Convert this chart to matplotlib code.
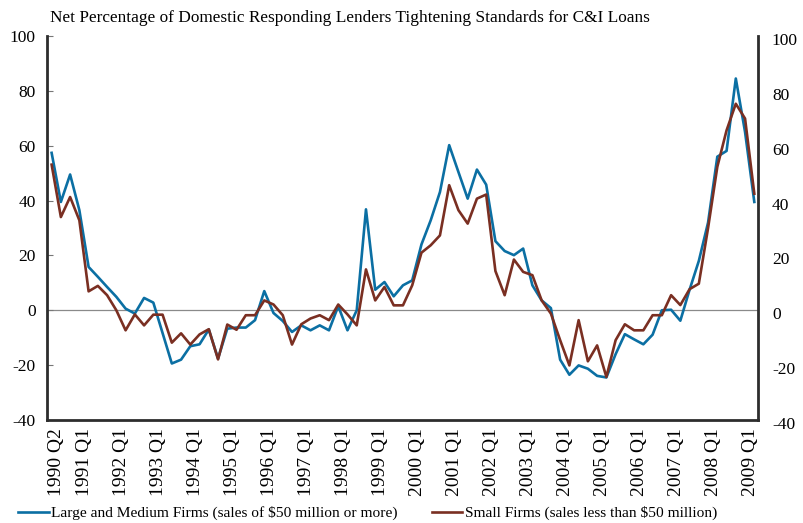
import matplotlib
matplotlib.use("Agg")
import matplotlib.pyplot as plt
import matplotlib.transforms as mtransforms
from matplotlib.lines import Line2D

# quarterly survey data, 1990 Q2 .. 2009 Q2
large_firms = [57.4, 39.5, 49.5, 36.5, 15.8, 12.2, 8.5, 4.9, 0.6, -1.2,
               4.5, 2.8, -8.3, -19.4, -18.0, -13.1, -12.4, -7.0, -17.6, -6.7,
               -6.3, -6.3, -3.6, 7.0, -1.0, -3.9, -7.9, -5.5, -7.3, -5.5,
               -7.3, 1.5, -7.3, 0.0, 36.8, 7.5, 10.3, 5.1, 9.1, 10.9,
               24.0, 32.8, 43.1, 60.2, 50.4, 40.7, 51.3, 45.8, 25.2, 21.6,
               20.1, 22.5, 9.1, 3.6, 0.8, -18.0, -23.5, -20.1, -21.3, -23.9,
               -24.5, -16.0, -8.7, -10.6, -12.4, -8.9, 0.0, 0.2, -3.8, 7.5,
               18.0, 32.0, 56.0, 58.1, 84.5, 65.0, 39.5]
small_firms = [53.1, 34.0, 41.3, 32.8, 6.9, 8.9, 5.5, 0.0, -7.3, -1.5,
               -5.5, -1.6, -1.6, -11.8, -8.4, -12.5, -8.8, -6.9, -17.9, -5.2,
               -7.1, -1.8, -1.8, 3.6, 2.1, -1.8, -12.5, -5.1, -3.0, -1.8,
               -3.6, 2.1, -1.5, -5.5, 14.9, 3.6, 8.5, 1.8, 1.8, 9.1,
               21.0, 23.7, 27.3, 45.6, 36.5, 31.6, 40.7, 42.2, 14.3, 5.5,
               18.5, 14.0, 12.8, 3.6, -1.2, -10.9, -20.1, -3.6, -18.6, -12.8,
               -24.3, -10.9, -5.1, -7.3, -7.3, -1.8, -1.8, 5.5, 1.9, 7.7,
               9.7, 30.0, 52.3, 65.6, 75.3, 69.9, 42.5]

tick_idx = [0] + list(range(3, 76, 4))
tick_labels = ["1990 Q2"] + [f"{y} Q1" for y in range(1991, 2010)]
y_ticks = [-40, -20, 0, 20, 40, 60, 80, 100]

title = "Net Percentage of Domestic Responding Lenders Tightening Standards for C&I Loans"
lbl_large = "Large and Medium Firms (sales of $50 million or more)"
lbl_small = "Small Firms (sales less than $50 million)"

BLUE = "#0b6fa3"
BROWN = "#7a2f22"
SPINE = "#2d2d2d"

plt.rcParams["font.family"] = ["Liberation Serif", "DejaVu Serif"]

fig = plt.figure(figsize=(8.04, 5.23), dpi=100)
ax = fig.add_axes([47 / 804, 1 - 420 / 523, (758 - 47) / 804, (420 - 36) / 523])

x = list(range(len(large_firms)))
ax.axhline(0, color="#8a8a8a", lw=0.9, zorder=1)
ax.plot(x, large_firms, color=BLUE, lw=1.9, zorder=3)
ax.plot(x, small_firms, color=BROWN, lw=1.9, zorder=4)

ax.set_xlim(-0.5, 76.4)
ax.set_ylim(-40, 100)
ax.set_yticks(y_ticks)
ax.set_yticklabels([str(v) for v in y_ticks], fontsize=12.5)
ax.tick_params(axis="y", direction="in", length=4, width=0.8, color="#777777", pad=8)
ax.set_xticks(tick_idx)
ax.set_xticklabels(tick_labels, rotation=90, fontsize=14)
ax.tick_params(axis="x", length=0, pad=6)

# rotated labels sit a few pixels right of their quarter
shift = mtransforms.ScaledTranslation(0.05, 0, fig.dpi_scale_trans)
for lab in ax.get_xticklabels():
    lab.set_transform(lab.get_transform() + shift)

for side in ["left", "right", "bottom"]:
    ax.spines[side].set_color(SPINE)
    ax.spines[side].set_linewidth(2.0)
ax.spines["top"].set_visible(False)

ax2 = ax.twinx()
ax2.set_ylim(-40, 100)
ax2.set_yticks(y_ticks)
ax2.set_yticklabels([str(v) for v in y_ticks], fontsize=12.5)
ax2.tick_params(axis="y", length=0, pad=10)
for s in ax2.spines.values():
    s.set_visible(False)
down = mtransforms.ScaledTranslation(0, -0.03, fig.dpi_scale_trans)
for lab in ax2.get_yticklabels():
    lab.set_transform(lab.get_transform() + down)

fig.text(50 / 804, 1 - 18 / 523, title, fontsize=12.4, va="center", ha="left")

handles = [Line2D([], [], color=BLUE, lw=1.9), Line2D([], [], color=BROWN, lw=1.9)]
fig.legend(handles, [lbl_large, lbl_small], loc="center left",
           bbox_to_anchor=(18 / 804, 1 - 513 / 523), ncol=2, frameon=False,
           fontsize=11.1, handlelength=2.0, handletextpad=0.15,
           columnspacing=2.2, borderpad=0, borderaxespad=0)

fig.savefig("out.png", dpi=100)
